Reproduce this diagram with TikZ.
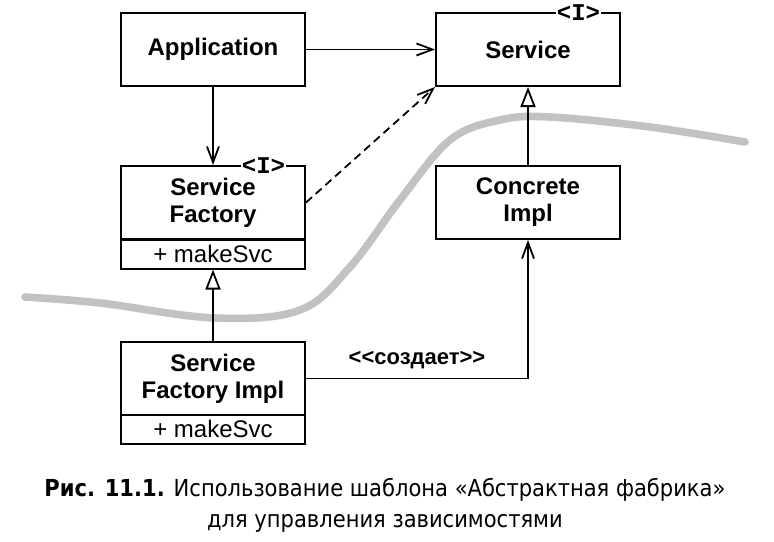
\documentclass[tikz,border=0pt]{standalone}
\usepackage{fontspec}
\setmainfont{Liberation Sans}
\setmonofont{Liberation Mono}
\newfontfamily\capfont{DejaVu Sans Condensed}
\usetikzlibrary{arrows.meta}
\begin{document}
\begin{tikzpicture}[x=0.5pt, y=-0.5pt,
  cls/.style={draw, line width=1pt, minimum width=92pt, minimum height=36.5pt, align=center, inner sep=1pt, font=\fontsize{12}{13.5}\selectfont\bfseries},
  ops/.style={draw, line width=1pt, minimum width=92pt, minimum height=14.5pt, inner sep=1pt, font=\fontsize{12}{13.5}\selectfont},
  iface/.style={fill=white, inner sep=0.6pt, font=\fontsize{12}{12}\selectfont\ttfamily\bfseries},
  uses/.style={line width=0.9pt, -{Straight Barb[length=8pt, width=6pt, line width=0.9pt]}},
  isa/.style={line width=0.9pt, -{Triangle[open, length=10pt, width=7.5pt, line width=0.9pt]}}]
\useasboundingbox (0,0) rectangle (774,541);
\draw[black!24, line width=3.8pt, line cap=round] plot[smooth, tension=0.6] coordinates {(25,297) (100,303) (215,318) (300,310) (350,267) (400,200) (450,140) (500,120) (550,117) (650,127) (745,142)};
\node[cls] (app) at (213,49.5){Application};
\node[cls] (svc) at (528,49.5){Service};
\node[iface] (svci) at (578.5,13){<I>};
\node[cls] (sf) at (213,202.5){Service\\Factory};
\node[ops] (sfm) at (213,254){+ makeSvc};
\node[iface] (sfii) at (263.5,166){<I>};
\node[cls] (ci) at (528,202.5){Concrete\\Impl};
\node[cls] (sfi) at (213,378.5){Service\\Factory Impl};
\node[ops] (sfim) at (213,429){+ makeSvc};
\draw[uses](app) -- (svc);
\draw[uses](app) -- (sf);
\draw[uses, dashed, dash pattern=on 4pt off 2.5pt](sf.east) -- (svc.south west);
\draw[isa](ci) -- (svc);
\draw[isa](sfi) -- (sfm);
\draw[uses](sfi.east) -| node[pos=0.25, above=1pt, font=\fontsize{11}{11}\selectfont\bfseries]{<{}<создает>{}>} (ci.south);
\node[font=\capfont\fontsize{11.7}{15.5}\selectfont, align=center] (cap) at (385,505){{\bfseries Рис. 11.1.} Использование шаблона «Абстрактная фабрика»\\для управления зависимостями};
\end{tikzpicture}
\end{document}
